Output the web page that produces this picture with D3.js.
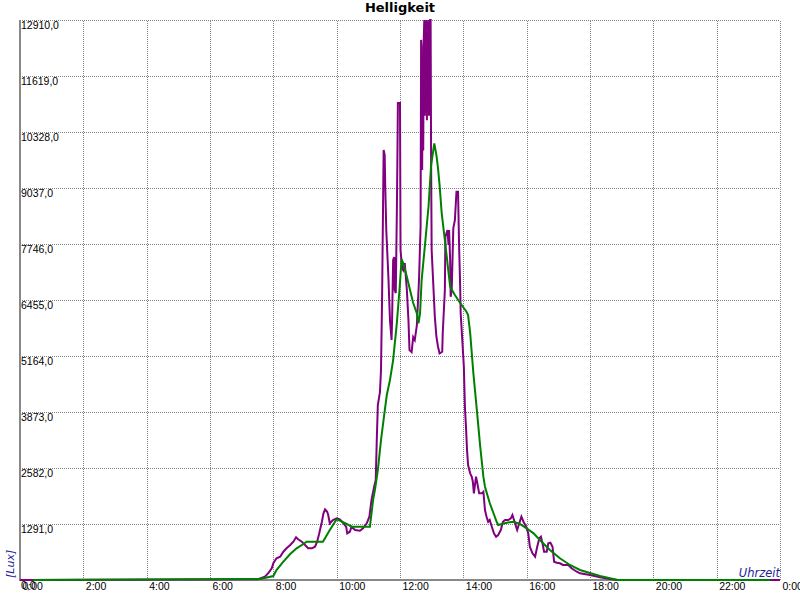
<!DOCTYPE html>
<html>
<head>
<meta charset="utf-8">
<script src="https://cdn.jsdelivr.net/npm/d3@7"></script>
<style>
  body { margin: 0; background: #fff; }
  svg { display: block; }
</style>
</head>
<body>
<svg id="chart" width="800" height="600"></svg>
<script>
// ---- data ----
const titleText = "Helligkeit";
const yTicks = [0, 1291, 2582, 3873, 5164, 6455, 7746, 9037, 10328, 11619, 12910];
const xTickHours = [0, 2, 4, 6, 8, 10, 12, 14, 16, 18, 20, 22, 24];
const xTickLabels = ["0:00","2:00","4:00","6:00","8:00","10:00","12:00","14:00","16:00","18:00","20:00","22:00","0:00"];

const purpleTimes = ["0:00","7:31","7:44","7:50","7:57","8:00","8:06","8:13","8:19","8:25","8:32","8:38","8:43","8:47","8:54","9:00","9:06","9:13","9:19","9:23","9:27","9:32","9:35","9:38","9:42","9:44","9:47","9:53","10:00","10:06","10:13","10:18","10:20","10:25","10:28","10:35","10:44","10:50","10:57","11:02","11:06","11:11","11:14","11:16","11:18","11:22","11:24","11:26","11:28","11:29","11:31","11:32","11:34","11:38","11:41","11:44","11:45","11:47","11:49","11:50","11:52","11:54","11:55","11:56","12:00","12:01","12:04","12:06","12:09","12:13","12:16","12:18","12:22","12:25","12:28","12:32","12:36","12:39","12:40","12:41","12:42","12:43","12:44","12:45","12:46","12:47","12:48","12:49","12:50","12:51","12:52","12:53","12:54","12:55","12:56","12:57","12:58","12:59","13:00","13:06","13:09","13:12","13:15","13:20","13:21","13:25","13:26","13:30","13:32","13:33","13:35","13:36","13:38","13:41","13:44","13:47","13:50","13:52","13:54","13:55","13:58","14:01","14:03","14:05","14:07","14:09","14:13","14:16","14:18","14:20","14:22","14:24","14:26","14:30","14:35","14:38","14:41","14:44","14:47","14:50","14:54","14:58","15:02","15:06","15:11","15:15","15:19","15:25","15:30","15:33","15:36","15:40","15:42","15:46","15:50","15:54","15:59","16:03","16:06","16:11","16:16","16:20","16:24","16:27","16:30","16:33","16:38","16:41","16:45","16:49","16:52","16:57","17:03","17:09","17:19","17:25","17:35","17:41","18:00","18:19","18:38","18:51","24:00"];
const purpleLux = [0,20,76,154,270,385,500,537,652,731,807,883,984,938,883,807,731,731,768,883,1076,1344,1537,1630,1574,1498,1307,1383,1422,1399,1307,1229,1076,1113,1229,1152,1136,1192,1307,1459,1844,2151,2305,3227,4034,4333,4840,6454,8759,9912,9796,9105,8068,6984,5993,5532,5993,7376,7445,6685,6615,8459,9612,10995,10995,7607,7192,7146,7307,6685,5993,5302,5255,5601,5532,5878,6915,8137,12450,12300,9450,12000,9900,12450,12910,10700,12880,10800,12910,10600,12850,10900,12910,10700,12800,12910,12910,9500,7600,6069,5608,5378,5225,5262,5693,6685,7913,8068,7722,8068,7376,6530,6685,8107,8298,8950,8950,7683,6761,6147,5532,4917,3995,3534,2997,2651,2459,2381,2266,1998,2190,2381,2266,1998,1998,2035,1613,1459,1344,1383,1229,1076,998,1037,1152,1344,1383,1383,1422,1498,1383,1229,1152,1307,1459,1344,1229,1076,768,615,537,768,961,998,846,652,652,846,860,768,422,399,385,346,346,270,191,154,115,62,23,0,0];

const greenTimes = ["0:25","7:35","8:00","8:06","8:19","8:32","8:44","8:57","9:03","9:34","9:47","10:00","10:06","10:19","10:28","11:03","11:06","11:09","11:13","11:18","11:24","11:30","11:35","11:41","11:47","11:54","11:59","12:03","12:06","12:13","12:19","12:25","12:32","12:35","12:38","12:41","12:47","12:54","12:59","13:05","13:09","13:12","13:15","13:19","13:25","13:30","13:35","13:44","13:54","14:06","14:09","14:13","14:19","14:25","14:32","14:38","14:41","14:50","14:57","15:03","15:06","15:22","15:35","15:47","16:00","16:13","16:25","16:44","17:03","17:22","17:41","18:19","18:44","18:53","23:41"];
const greenLux = [0,23,92,230,422,599,731,830,883,883,1152,1399,1367,1291,1229,1229,1537,1844,2114,2535,3227,3803,4264,4610,5071,5924,6685,7392,7307,6991,6685,6385,6147,5917,6147,6915,7683,8605,9566,10066,9796,9497,9105,8459,7837,7300,6761,6569,6385,6184,6108,5693,4771,3995,3073,2381,2151,1775,1544,1344,1268,1321,1344,1291,1192,1076,922,692,500,346,231,92,23,0,0];

// ---- helpers ----
const toHours = s => { const [h, m] = s.split(":").map(Number); return h + m / 60; };
const purple = purpleTimes.map((t, i) => ({ h: toHours(t), v: purpleLux[i] }));
const green = greenTimes.map((t, i) => ({ h: toHours(t), v: greenLux[i] }));

const svg = d3.select("#chart");
svg.append("rect").attr("width", 800).attr("height", 600).attr("fill", "#fff");

const x = d3.scaleLinear().domain([0, 24]).range([20, 780]);
const y = d3.scaleLinear().domain([0, 12910]).range([580, 20]);

const tickFont = "'Liberation Sans', Arial, sans-serif";

// grid + x labels
const xAxis = d3.axisBottom(x)
  .tickValues(xTickHours)
  .tickFormat((d, i) => xTickLabels[i])
  .tickSize(-560);
const gx = svg.append("g").attr("transform", "translate(0,580)").call(xAxis);
gx.select(".domain").remove();
gx.selectAll(".tick line")
  .attr("stroke", "#808080").attr("stroke-dasharray", "1,1")
  .attr("shape-rendering", "crispEdges");
gx.selectAll(".tick text")
  .attr("y", 9.5).attr("x", 2).attr("dy", null)
  .attr("text-anchor", "start")
  .attr("fill", "#000")
  .style("font-family", tickFont).style("font-size", "10.5px");

// grid + y labels
const yAxis = d3.axisLeft(y)
  .tickValues(yTicks)
  .tickFormat(d => d.toFixed(1).replace(".", ","))
  .tickSize(-760);
const gy = svg.append("g").attr("transform", "translate(20,0)").call(yAxis);
gy.select(".domain").remove();
gy.selectAll(".tick line")
  .attr("stroke", "#808080").attr("stroke-dasharray", "1,1")
  .attr("shape-rendering", "crispEdges");
gy.selectAll(".tick text")
  .attr("x", 1).attr("y", 8.5).attr("dy", null)
  .attr("text-anchor", "start")
  .attr("fill", "#000")
  .style("font-family", tickFont).style("font-size", "10.5px");

// axis lines
svg.append("line").attr("x1", x(0)).attr("x2", x(0)).attr("y1", y(12910)).attr("y2", y(0) + 1)
  .attr("stroke", "#888").attr("stroke-width", 2).attr("shape-rendering", "crispEdges");
svg.append("line").attr("x1", x(0) - 1).attr("x2", x(24)).attr("y1", y(0)).attr("y2", y(0))
  .attr("stroke", "#888").attr("stroke-width", 2).attr("shape-rendering", "crispEdges");

// series
const line = d3.line().x(d => x(d.h)).y(d => y(d.v));
svg.append("path").datum(purple).attr("d", line)
  .attr("fill", "none").attr("stroke", "#800080").attr("stroke-width", 2)
  .attr("stroke-linejoin", "miter");
svg.append("path").datum(green).attr("d", line)
  .attr("fill", "none").attr("stroke", "#008000").attr("stroke-width", 2);

// title
svg.append("text").attr("x", 400).attr("y", 12).attr("text-anchor", "middle")
  .style("font-family", "'DejaVu Sans', sans-serif").style("font-size", "13px")
  .style("font-weight", "bold").attr("fill", "#000").text(titleText);

// axis titles
svg.append("text").attr("transform", "translate(14,578) rotate(-90)")
  .attr("text-anchor", "start")
  .style("font-family", "'DejaVu Sans', sans-serif").style("font-size", "11px")
  .style("font-style", "italic").attr("fill", "#1e1e96").text("[Lux]");
svg.append("text").attr("x", 780).attr("y", 577).attr("text-anchor", "end")
  .style("font-family", "'DejaVu Sans', sans-serif").style("font-size", "11.5px")
  .style("font-style", "italic").attr("fill", "#1e1e96").text("Uhrzeit");
</script>
</body>
</html>
